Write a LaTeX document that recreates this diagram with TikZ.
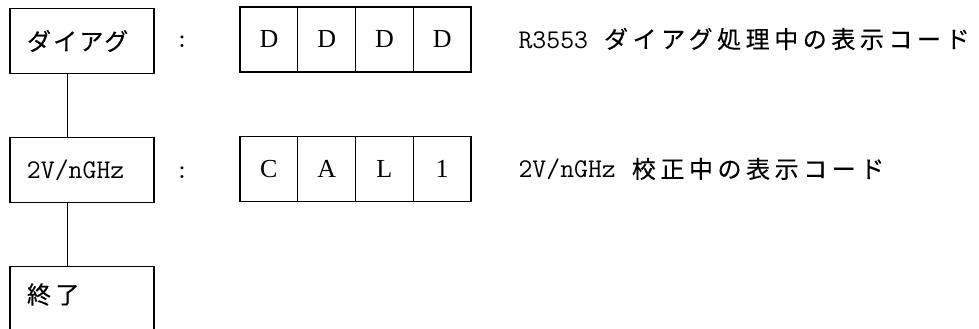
\documentclass[tikz,border=0pt]{standalone}
\usepackage{fontspec}
\usetikzlibrary{positioning}
\newfontfamily\jpfont[LetterSpace=19,FakeBold=0.3]{Noto Sans CJK JP}
\newfontfamily\jpboxfont[LetterSpace=9,FakeBold=0.3]{Noto Sans CJK JP}
\newfontfamily\cellfont{Liberation Serif}
\newcommand{\codesize}{\ttfamily\addfontfeature{FakeBold=2}\fontsize{27}{30}\selectfont}
\newcommand{\jpsize}{\fontsize{24}{28}\selectfont}

\begin{document}
\begin{tikzpicture}[x=1pt, y=-1pt, line width=1.1pt,
  leftbox/.style = {draw, text width=110pt, align=left, inner xsep=17pt, minimum height=65pt},
  cell/.style = {draw, minimum width=57.75pt, minimum height=65pt, inner sep=0pt, outer sep=0pt, font=\cellfont\fontsize{26}{30}\selectfont},
  colon/.style = {inner sep=0pt, font=\codesize},
  desc/.style = {anchor=west, inner sep=0pt}]
  \useasboundingbox (0,0) rectangle (979,329);
  \node[leftbox] (diag) at (82,41) {\jpboxfont\jpsize ダイアグ};
  \node[leftbox] (twov) at (82,170) {\codesize 2V/nGHz};
  \node[leftbox, anchor=north, text height=22pt, text depth=45pt, inner ysep=15pt] (fin) at (82,266) {\jpfont\jpsize 終了};
  \draw[line width=0.8pt] ([xshift=58pt]diag.south west) -- ([xshift=58pt]twov.north west);
  \draw[line width=0.8pt] ([xshift=58pt]twov.south west) -- ([xshift=58pt]fin.north west);

  \node[colon] (colA) at (182,42) {:};
  \node[colon] (colB) at (182,173) {:};

  \node[cell] (d1) at (268.9,39.5) {D};
  \node[cell, right=0pt of d1] (d2) {D};
  \node[cell, right=0pt of d2] (d3) {D};
  \node[cell, right=0pt of d3] (d4) {D};

  \node[cell] (c1) at (268.9,169) {C};
  \node[cell, right=0pt of c1] (c2) {A};
  \node[cell, right=0pt of c2] (c3) {L};
  \node[cell, right=0pt of c3] (c4) {1};

  \node[desc] (descA) at (518,39) {{\codesize R3553}\hspace{16pt}{\jpfont\jpsize ダイアグ処理中の表示コード}};
  \node[desc] (descB) at (518,169) {{\codesize 2V/nGHz}\hspace{16pt}{\jpfont\jpsize 校正中の表示コード}};
\end{tikzpicture}
\end{document}
